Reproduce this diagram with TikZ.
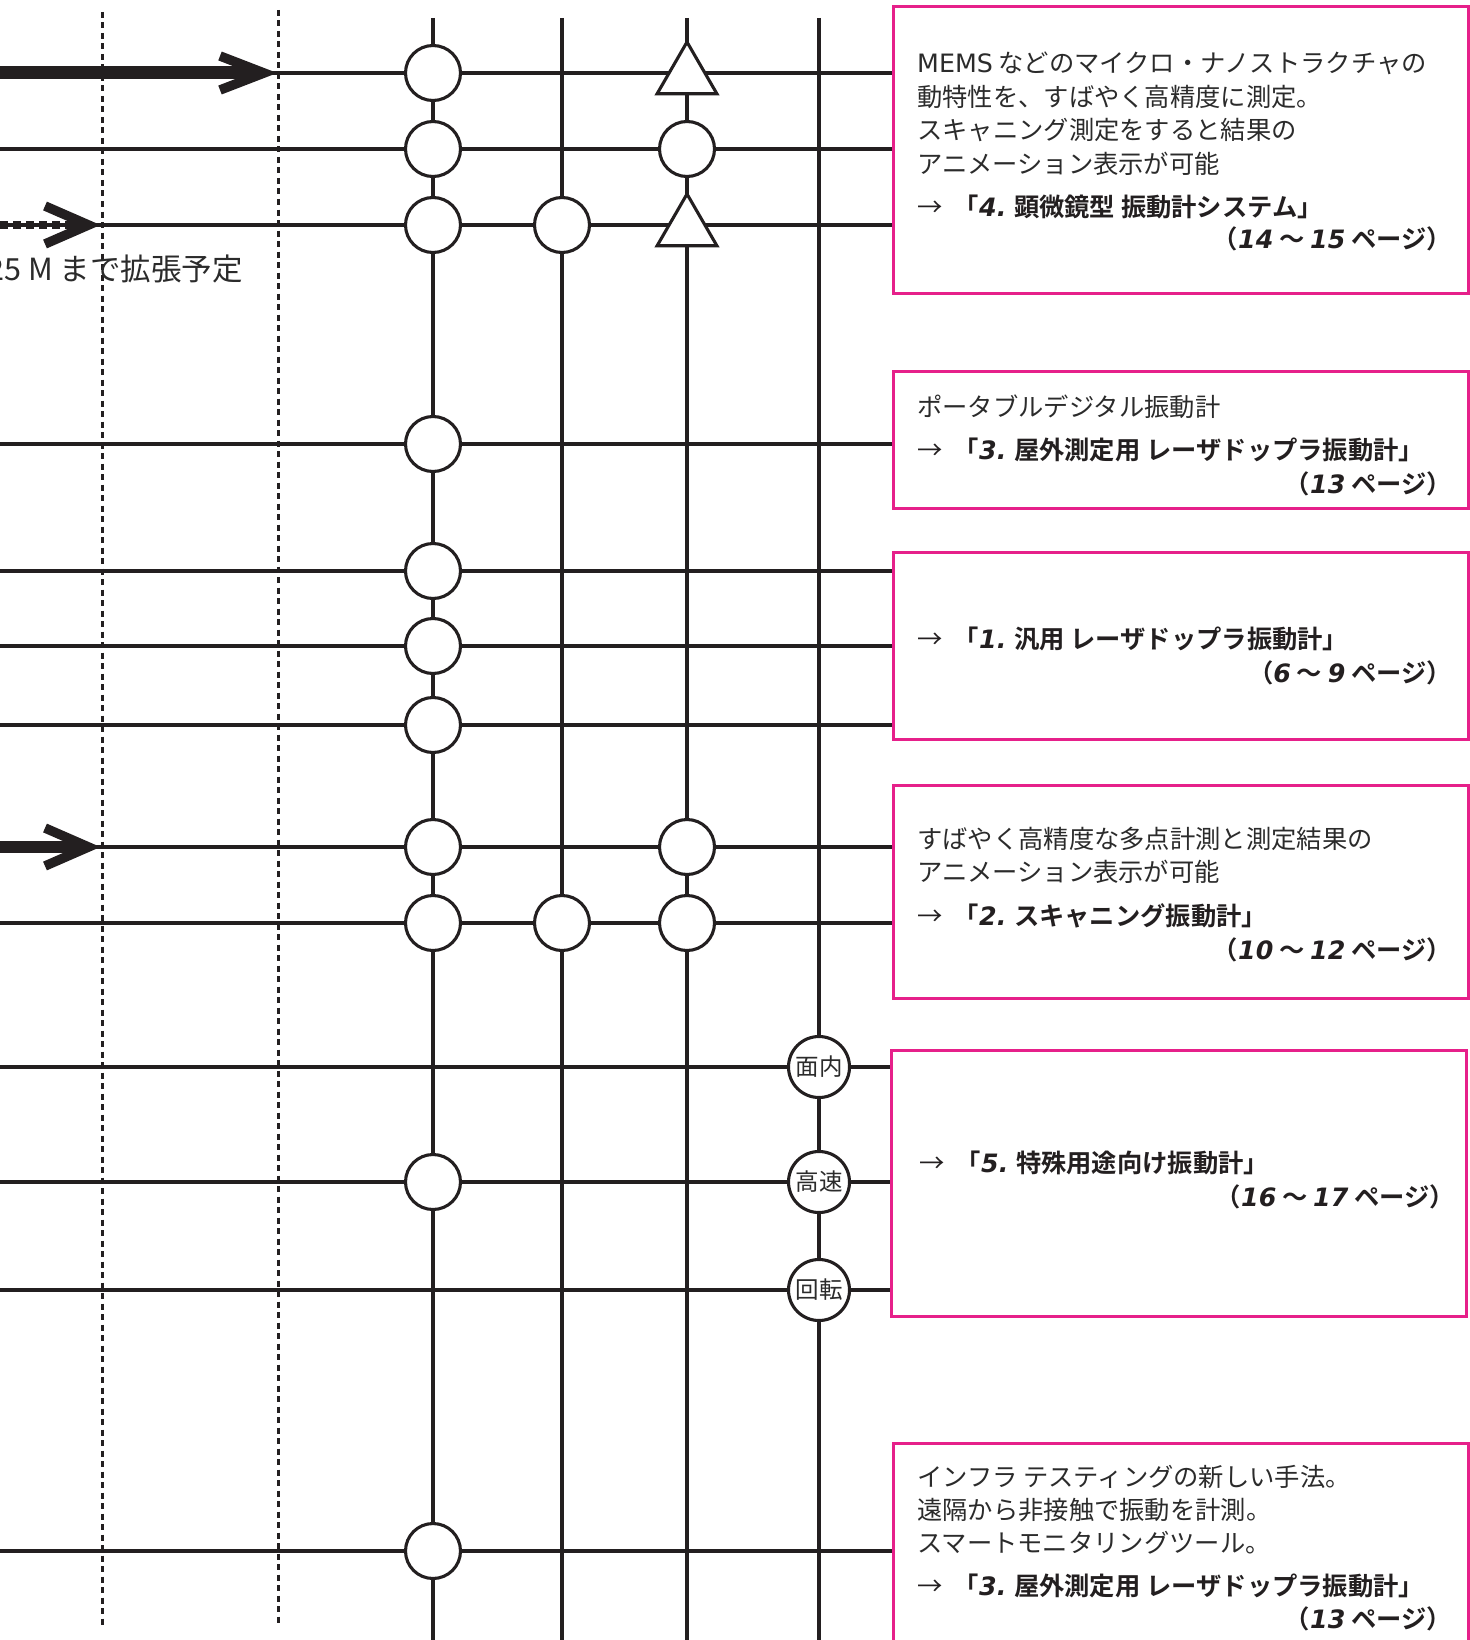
\documentclass[tikz,border=0pt]{standalone}
\usepackage{fontspec}
\setmainfont{Noto Sans CJK JP}[BoldFont={Noto Sans CJK JP Bold}]
\newfontfamily\lat{DejaVu Sans}[ItalicFont={DejaVu Sans Oblique},BoldFont={DejaVu Sans Bold},BoldItalicFont={DejaVu Sans Bold Oblique}]
\usetikzlibrary{shapes.geometric}
\definecolor{ink}{HTML}{231F20}
\definecolor{txt}{HTML}{2B2B2B}
\definecolor{pinkc}{HTML}{E6208A}
\newcommand\bnum[1]{{\lat\bfseries\itshape #1}}
\newcommand\latn[1]{{\lat #1}}
\begin{document}
\begin{tikzpicture}[x=1pt,y=-1pt,
  ln/.style={draw=ink,line width=3.2pt},
  dotv/.style={draw=ink,line width=3pt,dash pattern=on 6pt off 4.5pt},
  mk/.style={circle,draw=ink,fill=white,line width=3.1pt,minimum size=55pt,inner sep=0pt},
  mkl/.style={circle,draw=ink,fill=white,line width=3.1pt,minimum size=61pt,inner sep=0pt,font=\fontsize{23.5}{23.5}\selectfont,text=txt},
  tri/.style={regular polygon,regular polygon sides=3,draw=ink,fill=white,line width=3.1pt,minimum size=69pt,inner sep=0pt},
  pbox/.style={draw=pinkc,line width=3pt,rectangle,anchor=north west,inner sep=0pt,minimum width=575pt},
  tx/.style={anchor=base west,inner sep=0pt,text=txt,font=\fontsize{25.3}{30}\selectfont},
  tb/.style={anchor=base west,inner sep=0pt,text=ink,font=\fontsize{25.3}{30}\selectfont\bfseries},
  tp/.style={anchor=base east,inner sep=0pt,text=ink,font=\fontsize{25.3}{30}\selectfont\bfseries},
  arrv/.style={draw=ink,line width=9.5pt,line join=miter},
]
\useasboundingbox (0,0) rectangle (1469,1640);

% pink boxes
\node[pbox,minimum height=287pt] (b1) at (892,5) {};
\node[pbox,minimum height=137pt] (b2) at (892,370) {};
\node[pbox,minimum height=187pt] (b3) at (892,551) {};
\node[pbox,minimum height=213pt] (b4) at (892,784) {};
\node[pbox,minimum height=266pt] (b5) at (890,1049) {};
\node[pbox,minimum height=230pt] (b6) at (892,1442) {};

% dotted vertical guides
\coordinate (d1t) at (102,12); \coordinate (d1b) at (102,1629);
\coordinate (d2t) at (278,10); \coordinate (d2b) at (278,1627);
\draw[dotv] (d1t) -- (d1b);
\draw[dotv] (d2t) -- (d2b);

% column lines
\foreach \i/\x in {1/433,2/562,3/687,4/819}{
  \coordinate (c\i t) at (\x,18);
  \coordinate (c\i b) at (\x,1640);
  \draw[ln] (c\i t) -- (c\i b);
}

% row lines
\foreach \r/\y/\b in {1/73/b1,2/149/b1,3/225/b1,4/444/b2,5/571/b3,6/646/b3,7/725/b3,8/847/b4,9/923/b4,10/1067/b5,11/1182/b5,12/1290/b5,13/1551/b6}{
  \coordinate (r\r) at (0,\y);
  \draw[ln] (r\r) -- (r\r -| \b.west);
}

% arrows on the left
\coordinate (a1s) at (0,73); \coordinate (a1e) at (250,73);
\draw[draw=ink,line width=13pt] (a1s) -- (a1e);
\draw[arrv] (220,56) -- (264,73) -- (220,90);

\coordinate (a3s) at (0,225); \coordinate (a3e) at (86,225);
\draw[draw=ink,line width=8pt,dash pattern=on 8pt off 5pt] (a3s) -- (a3e);
\draw[arrv] (45,206) -- (88.5,225) -- (45,244);

\coordinate (a8s) at (0,847); \coordinate (a8e) at (80,847);
\draw[draw=ink,line width=12pt] (a8s) -- (a8e);
\draw[arrv] (45,828) -- (88.5,847) -- (45,866);

\node[anchor=base east,inner sep=0pt,text=txt,font=\fontsize{30.5}{30.5}\selectfont] (note) at (243,280) {25 M まで拡張予定};

% markers column 1
\foreach \r/\y in {1/73,2/149,3/225,4/444,5/571,6/646,7/725,8/847,9/923,11/1182,13/1551}{
  \node[mk] (m1-\r) at (433,\y) {};
}
% column 2
\node[mk] (m2-3) at (562,225) {};
\node[mk] (m2-9) at (562,923) {};
% column 3
\node[tri] (m3-1) at (687,76.5) {};
\node[mk] (m3-2) at (687,149) {};
\node[tri] (m3-3) at (687,228.5) {};
\node[mk] (m3-8) at (687,847) {};
\node[mk] (m3-9) at (687,923) {};
% column 4
\node[mkl] (m4-10) at (819,1067) {面内};
\node[mkl] (m4-11) at (819,1182) {高速};
\node[mkl] (m4-12) at (819,1290) {回転};

% box 1 text
\node[tx] (t1a) at (917,73) {\latn{MEMS} などのマイクロ・ナノストラクチャの};
\node[tx] (t1b) at (917,106.5) {動特性を、すばやく高精度に測定。};
\node[tx] (t1c) at (917,140) {スキャニング測定をすると結果の};
\node[tx] (t1d) at (917,173.5) {アニメーション表示が可能};
\node[tb] (t1e) at (917,216) {\mdseries →\hspace{0.45em}\bfseries「\bnum{4.} 顕微鏡型 振動計システム」};
\node[tp] (t1f) at (1452,248) {（\bnum{14} ～ \bnum{15} ページ）};

% box 2 text
\node[tx] (t2a) at (917,416) {ポータブルデジタル振動計};
\node[tb] (t2b) at (917,459) {\mdseries →\hspace{0.45em}\bfseries「\bnum{3.} 屋外測定用 レーザドップラ振動計」};
\node[tp] (t2c) at (1452,493) {（\bnum{13} ページ）};

% box 3 text
\node[tb] (t3a) at (917,648.5) {\mdseries →\hspace{0.45em}\bfseries「\bnum{1.} 汎用 レーザドップラ振動計」};
\node[tp] (t3b) at (1452,682) {（\bnum{6} ～ \bnum{9} ページ）};

% box 4 text
\node[tx] (t4a) at (917,848) {すばやく高精度な多点計測と測定結果の};
\node[tx] (t4b) at (917,881.5) {アニメーション表示が可能};
\node[tb] (t4c) at (917,925.5) {\mdseries →\hspace{0.45em}\bfseries「\bnum{2.} スキャニング振動計」};
\node[tp] (t4d) at (1452,959) {（\bnum{10} ～ \bnum{12} ページ）};

% box 5 text
\node[tb] (t5a) at (919,1172) {\mdseries →\hspace{0.45em}\bfseries「\bnum{5.} 特殊用途向け振動計」};
\node[tp] (t5b) at (1455,1206) {（\bnum{16} ～ \bnum{17} ページ）};

% box 6 text
\node[tx] (t6a) at (917,1486) {インフラ テスティングの新しい手法。};
\node[tx] (t6b) at (917,1519.5) {遠隔から非接触で振動を計測。};
\node[tx] (t6c) at (917,1552) {スマートモニタリングツール。};
\node[tb] (t6d) at (917,1595) {\mdseries →\hspace{0.45em}\bfseries「\bnum{3.} 屋外測定用 レーザドップラ振動計」};
\node[tp] (t6e) at (1452,1628) {（\bnum{13} ページ）};
\end{tikzpicture}
\end{document}
